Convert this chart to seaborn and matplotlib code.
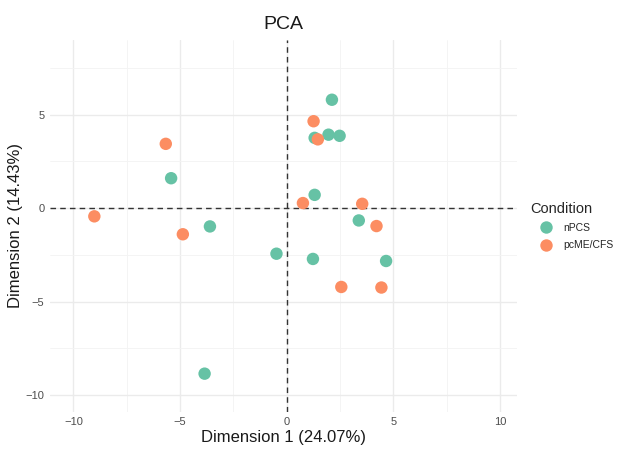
import matplotlib
matplotlib.use("Agg")
import matplotlib.pyplot as plt
import seaborn as sns
import pandas as pd
from matplotlib.ticker import MultipleLocator

npcs_x = [2.12, 1.31, 1.96, 2.48, -5.42, 1.31, 3.38, -3.60, -0.48, 1.23, 4.66, -3.85]
npcs_y = [5.80, 3.76, 3.93, 3.87, 1.60, 0.71, -0.66, -0.98, -2.44, -2.72, -2.83, -8.86]
pcme_x = [1.26, 1.46, -5.67, -9.02, -4.87, 0.76, 3.54, 4.21, 2.56, 4.44]
pcme_y = [4.65, 3.68, 3.44, -0.44, -1.40, 0.27, 0.23, -0.96, -4.22, -4.25]
groups = ["nPCS", "pcME/CFS"]
colors = ["#66C2A5", "#FC8D62"]

df = pd.DataFrame({
    "Dim1": npcs_x + pcme_x,
    "Dim2": npcs_y + pcme_y,
    "Condition": [groups[0]] * len(npcs_x) + [groups[1]] * len(pcme_x),
})

sns.set_theme(style="white")
plt.rcParams['font.family'] = ['Liberation Sans', 'DejaVu Sans']

fig = plt.figure(figsize=(6.17, 4.54), dpi=100)
ax = fig.add_axes([0.081, 0.093, 0.757, 0.819])

ax.set_xlim(-11.1, 10.8)
ax.set_ylim(-10.9, 9.0)
ax.xaxis.set_major_locator(MultipleLocator(5))
ax.yaxis.set_major_locator(MultipleLocator(5))
ax.xaxis.set_minor_locator(MultipleLocator(2.5))
ax.yaxis.set_minor_locator(MultipleLocator(2.5))
ax.grid(which="major", color="#EBEBEB", linewidth=1.0)
ax.grid(which="minor", color="#F3F3F3", linewidth=0.6)
ax.set_axisbelow(True)
for s in ax.spines.values():
    s.set_visible(False)
ax.tick_params(which="both", length=0, labelsize=8, labelcolor="#4D4D4D", pad=4)

ax.axhline(0, color="#333333", linestyle=(0, (4, 3)), linewidth=1.0, zorder=1)
ax.axvline(0, color="#333333", linestyle=(0, (4, 3)), linewidth=1.0, zorder=1)

sns.scatterplot(data=df, x="Dim1", y="Dim2", hue="Condition", hue_order=groups,
                palette=colors, s=80, edgecolor="none", ax=ax, zorder=3)

ax.set_xlabel("Dimension 1 (24.07%)", fontsize=12, color="#1A1A1A", labelpad=2)
ax.set_ylabel("Dimension 2 (14.43%)", fontsize=12, color="#1A1A1A", labelpad=2)
ax.set_title("PCA", fontsize=14, color="#1A1A1A", pad=8)

leg = ax.legend(title="Condition", loc="center left", bbox_to_anchor=(1.01, 0.5),
                frameon=False, fontsize=7.5, title_fontsize=10.5, markerscale=1.0,
                handlelength=3.0, handletextpad=0.2, labelspacing=0.7, borderpad=0.3)
leg._legend_box.align = "left"

fig.savefig("out.png", dpi=100)
